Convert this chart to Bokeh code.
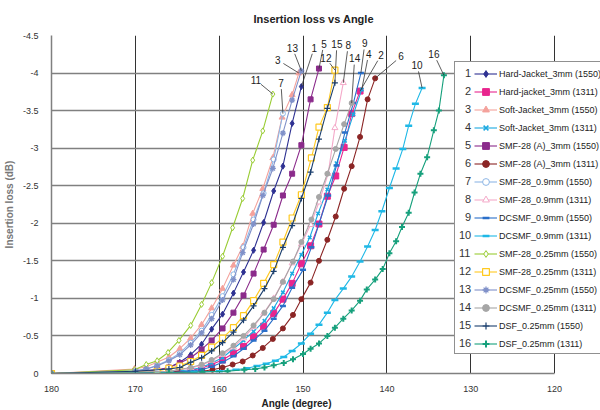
import math
from bokeh.plotting import figure
from bokeh.models import (Range1d, FixedTicker, CustomJSTickFormatter, Legend,
                          LegendItem, Label, Title)
from bokeh.embed import file_html
from bokeh.resources import INLINE

# ---------------- data (angle in degree, insertion loss in dB) ----------------
NAMES = ["Hard-Jacket_3mm (1550)", "Hard-jacket_3mm (1311)", "Soft-Jacket_3mm (1550)",
         "Soft-Jacket_3mm (1311)", "SMF-28 (A)_3mm (1550)", "SMF-28 (A)_3mm (1311)",
         "SMF-28_0.9mm (1550)", "SMF-28_0.9mm (1311)", "DCSMF_0.9mm (1550)",
         "DCSMF_0.9mm (1311)", "SMF-28_0.25mm (1550)", "SMF-28_0.25mm (1311)",
         "DCSMF_0.25mm (1550)", "DCSMF_0.25mm (1311)", "DSF_0.25mm (1550)",
         "DSF_0.25mm (1311)"]

ANGLE_1 = [180, 170.1, 168.7, 167.4, 166.0, 164.7, 163.4, 162.1, 160.9, 159.6, 158.3, 157.1, 155.9, 154.7, 153.5, 152.4, 151.3, 150.2]
LOSS_1 = [0, -0.02, -0.03, -0.04, -0.08, -0.15, -0.25, -0.39, -0.59, -0.79, -1.07, -1.35, -1.64, -2.01, -2.43, -2.76, -3.33, -3.82]

ANGLE_2 = [180, 167.4, 166.0, 164.7, 163.4, 162.1, 160.9, 159.6, 158.3, 157.1, 155.9, 154.7, 153.5, 152.4, 151.3, 150.2, 149.1, 148.1, 147.1, 146.1, 145.1, 144.2, 143.2]
LOSS_2 = [0, -0.01, -0.01, -0.02, -0.04, -0.07, -0.12, -0.18, -0.27, -0.36, -0.49, -0.63, -0.80, -0.99, -1.20, -1.46, -1.70, -1.99, -2.36, -2.63, -3.01, -3.46, -3.76]

ANGLE_3 = [180, 170.1, 168.7, 167.4, 166.0, 164.7, 163.4, 162.1, 160.9, 159.6, 158.3, 157.2, 156.0, 154.8, 153.6, 152.5, 151.3, 150.5]
LOSS_3 = [0, -0.06, -0.09, -0.15, -0.22, -0.33, -0.47, -0.65, -0.87, -1.13, -1.44, -1.69, -2.13, -2.46, -2.87, -3.41, -3.71, -4.00]

ANGLE_4 = [180, 166.0, 163.4, 162.1, 160.9, 159.6, 158.3, 157.1, 155.9, 154.6, 153.5, 152.4, 151.3, 150.2, 149.2, 148.2, 147.1, 146.0, 145.0, 144.0, 143.0]
LOSS_4 = [0, -0.02, -0.05, -0.08, -0.14, -0.21, -0.33, -0.44, -0.56, -0.70, -0.87, -1.08, -1.33, -1.58, -1.81, -2.13, -2.45, -2.80, -3.10, -3.45, -3.78]

ANGLE_5 = [180, 170.0, 167.4, 166.0, 164.7, 163.4, 162.1, 160.9, 159.6, 158.3, 157.1, 155.9, 154.7, 153.5, 152.4, 151.3, 150.2, 149.1, 148.1]
LOSS_5 = [0, -0.03, -0.05, -0.08, -0.14, -0.21, -0.32, -0.44, -0.60, -0.81, -1.04, -1.33, -1.65, -1.98, -2.37, -2.66, -3.04, -3.65, -4.06]

ANGLE_6 = [180, 170.0, 165.0, 162.0, 160.8, 159.6, 158.4, 157.2, 156.0, 154.8, 153.6, 152.4, 151.2, 150.2, 149.1, 148.1, 147.1, 146.1, 145.1, 144.2, 143.2, 142.3, 141.4]
LOSS_6 = [0, -0.01, -0.02, -0.03, -0.05, -0.08, -0.12, -0.16, -0.24, -0.34, -0.46, -0.60, -0.78, -0.99, -1.21, -1.50, -1.78, -2.09, -2.46, -2.76, -3.15, -3.65, -3.93]

ANGLE_7 = [180, 170.0, 168.7, 167.4, 166.0, 164.7, 163.4, 162.1, 160.9, 159.6, 158.3, 157.1, 155.9, 154.7, 153.5, 152.4]
LOSS_7 = [0, -0.04, -0.06, -0.11, -0.18, -0.27, -0.41, -0.57, -0.78, -1.03, -1.32, -1.68, -2.05, -2.40, -2.85, -3.46]

ANGLE_8 = [180, 166.0, 163.4, 162.1, 160.9, 159.6, 158.3, 157.1, 155.9, 154.7, 153.5, 152.4, 151.3, 150.2, 149.1, 148.1, 147.0, 146.2, 145.2]
LOSS_8 = [0, -0.03, -0.07, -0.11, -0.17, -0.25, -0.35, -0.47, -0.62, -0.80, -1.00, -1.22, -1.47, -1.72, -1.98, -2.28, -2.66, -3.27, -3.87]

ANGLE_9 = [180, 166.0, 163.4, 162.1, 160.9, 159.6, 158.3, 157.1, 155.9, 154.6, 153.5, 152.4, 151.3, 150.0, 149.0, 148.1, 147.0, 146.0, 145.0, 144.0, 143.1]
LOSS_9 = [0, -0.01, -0.03, -0.05, -0.09, -0.15, -0.23, -0.33, -0.44, -0.57, -0.73, -0.90, -1.14, -1.38, -1.68, -1.99, -2.37, -2.77, -3.21, -3.60, -4.00]

ANGLE_10 = [180, 167.0, 163.0, 160.0, 158.0, 156.7, 155.5, 154.4, 153.3, 152.3, 151.3, 150.2, 149.1, 148.1, 147.1, 146.2, 145.2, 144.2, 143.2, 142.3, 141.4, 140.6, 139.7, 138.9, 138.1, 137.4, 136.6, 135.8]
LOSS_10 = [0, -0.01, -0.02, -0.03, -0.05, -0.07, -0.10, -0.13, -0.17, -0.22, -0.30, -0.40, -0.53, -0.65, -0.81, -0.98, -1.13, -1.29, -1.49, -1.69, -1.91, -2.16, -2.47, -2.73, -2.99, -3.30, -3.59, -3.80]

ANGLE_11 = [180, 170.1, 168.7, 167.4, 166.1, 164.8, 163.4, 162.1, 160.9, 159.6, 158.4, 157.2, 156.0, 154.8, 153.6]
LOSS_11 = [0, -0.05, -0.12, -0.17, -0.28, -0.44, -0.64, -0.92, -1.21, -1.56, -1.94, -2.33, -2.84, -3.23, -3.72]

ANGLE_12 = [180, 167.4, 166.0, 164.7, 163.4, 162.1, 160.9, 159.6, 158.3, 157.1, 155.9, 154.7, 153.5, 152.4, 151.3, 150.2, 149.0, 148.1, 147.1, 146.2]
LOSS_12 = [0, -0.03, -0.07, -0.10, -0.16, -0.24, -0.35, -0.47, -0.61, -0.77, -0.97, -1.20, -1.45, -1.75, -2.07, -2.38, -2.87, -3.28, -3.54, -4.04]

ANGLE_13 = [180, 170.0, 168.7, 167.4, 166.0, 164.7, 163.4, 162.1, 160.9, 159.6, 158.3, 157.2, 155.9, 154.8, 153.6, 152.4, 151.3, 150.2]
LOSS_13 = [0, -0.03, -0.06, -0.10, -0.17, -0.25, -0.38, -0.54, -0.73, -0.98, -1.25, -1.61, -1.99, -2.37, -2.73, -3.20, -3.64, -4.03]

ANGLE_14 = [180, 166.0, 163.4, 162.1, 160.9, 159.6, 158.3, 157.1, 155.9, 154.6, 153.5, 152.4, 151.2, 150.2, 149.0, 148.1, 147.1, 146.1, 145.1, 144.2]
LOSS_14 = [0, -0.03, -0.08, -0.12, -0.18, -0.27, -0.37, -0.50, -0.64, -0.81, -0.99, -1.22, -1.49, -1.75, -2.05, -2.35, -2.66, -2.99, -3.32, -3.60]

ANGLE_15 = [180, 170.0, 166.0, 164.7, 163.4, 162.1, 160.9, 159.6, 158.3, 157.1, 155.9, 154.6, 153.5, 152.4, 151.3, 150.2, 149.1, 148.1, 147.1, 146.2]
LOSS_15 = [0, -0.03, -0.06, -0.08, -0.15, -0.21, -0.30, -0.41, -0.55, -0.71, -0.90, -1.13, -1.36, -1.68, -1.97, -2.33, -2.68, -3.12, -3.53, -3.87]

ANGLE_16 = [180, 166.0, 162.0, 159.0, 157.0, 155.7, 154.6, 153.5, 152.3, 151.2, 150.0, 149.1, 148.1, 147.1, 146.2, 145.2, 144.2, 143.2, 142.4, 141.4, 140.5, 139.7, 138.9, 138.2, 137.4, 136.7, 136.0, 135.2, 134.4, 133.8, 133.2]
LOSS_16 = [0, -0.01, -0.02, -0.03, -0.05, -0.06, -0.08, -0.11, -0.14, -0.19, -0.26, -0.33, -0.40, -0.50, -0.61, -0.73, -0.84, -0.97, -1.12, -1.25, -1.39, -1.60, -1.76, -1.95, -2.14, -2.41, -2.66, -2.88, -3.24, -3.50, -3.97]

ANGLES = [ANGLE_1, ANGLE_2, ANGLE_3, ANGLE_4, ANGLE_5, ANGLE_6, ANGLE_7, ANGLE_8,
          ANGLE_9, ANGLE_10, ANGLE_11, ANGLE_12, ANGLE_13, ANGLE_14, ANGLE_15, ANGLE_16]
LOSSES = [LOSS_1, LOSS_2, LOSS_3, LOSS_4, LOSS_5, LOSS_6, LOSS_7, LOSS_8,
          LOSS_9, LOSS_10, LOSS_11, LOSS_12, LOSS_13, LOSS_14, LOSS_15, LOSS_16]

X_TICKS = [180, 170, 160, 150, 140, 130, 120]
Y_TICKS = [0, -0.5, -1, -1.5, -2, -2.5, -3, -3.5, -4, -4.5]

# ---------------- styles ----------------
COLORS = ["#2E3192", "#E8258E", "#F4A29C", "#1BA9E1", "#8B2B8B", "#8B2525",
          "#8EB7E6", "#F4A9C9", "#2A6FC9", "#1FB8E6", "#99CC33", "#FFC91F",
          "#8091C9", "#A6A6A6", "#1B3F6E", "#16A07C"]
MARKERS = ["diamond", "square", "triangle", "x", "square", "circle",
           "circle", "triangle", "dash", "dash", "diamond", "square",
           "asterisk", "circle", "cross", "cross"]
FILLED = [True, True, True, True, True, True, False, False, True, True,
          False, False, True, True, True, True]
MSIZE = [6, 6, 6, 5, 5, 5, 5, 6, 6, 7, 6, 6, 6, 5, 6, 6]
MLW = [1, 1, 1, 1.5, 1, 1, 1, 1, 2.5, 2.5, 1, 1.2, 1.3, 1, 1.2, 2]
# series-number label offsets (screen px, from each series' last point)
LABEL_OFFSET = [(13, -39), (21, -36), (-21, -13), (7, -36), (5, -25), (26, -22),
                (-2, -31), (5, -38), (4, -30), (-5, -23), (-17, -14), (-9, -12),
                (-9, -23), (3, -45), (2, -39), (-10, -21)]

FONT = "Liberation Sans"
W, H = 600, 410
FL, FT, FB = 50, 35, 37
PLOT_RIGHT = 554                      # where the 120 degree line sits
FH = H - FT - FB
SX = (PLOT_RIGHT - FL) / 60.0         # px per degree
SY = FH / 4.5                         # px per dB
X_END = 180 - (W - FL) / SX           # frame runs to the canvas edge (legend area)

p = figure(width=W, height=H, output_backend="svg", toolbar_location=None,
           x_range=Range1d(180, X_END), y_range=Range1d(0, -4.5),
           min_border_left=FL, min_border_right=0, min_border_top=FT,
           min_border_bottom=FB, background_fill_color="white",
           border_fill_color="white", outline_line_color=None)

p.title.text = "Insertion loss vs Angle"
p.title.align = "left"
p.title.offset = 202
p.title.vertical_align = "bottom"
p.title.standoff = 21
p.title.text_font = FONT
p.title.text_font_size = "11px"
p.title.text_font_style = "bold"
p.title.text_color = "#222222"

p.xaxis.ticker = FixedTicker(ticks=X_TICKS)
p.yaxis.ticker = FixedTicker(ticks=Y_TICKS)
p.yaxis.formatter = CustomJSTickFormatter(code="return tick.toString();")
p.yaxis.axis_label = "Insertion loss (dB)"
for ax in (p.xaxis, p.yaxis):
    ax.axis_label_text_font = FONT
    ax.axis_label_text_font_size = "10px"
    ax.axis_label_text_font_style = "bold"
    ax.major_label_text_font = FONT
    ax.major_label_text_font_size = "9px"
    ax.major_label_text_color = "#333333"
    ax.major_tick_line_color = None
    ax.minor_tick_line_color = None
    ax.axis_line_color = "#808080"
    ax.axis_line_width = 1.5
p.xaxis.bounds = (120, 180)
p.yaxis.axis_label_text_color = "#777777"
p.xaxis.major_label_standoff = 6
p.yaxis.major_label_standoff = 7
p.yaxis.axis_label_standoff = 5

p.add_layout(Title(text="Angle (degree)", align="left", offset=210,
                   vertical_align="bottom", standoff=2, text_font=FONT,
                   text_font_size="10px", text_font_style="bold",
                   text_color="#222222"), "below")

p.xgrid.ticker = FixedTicker(ticks=X_TICKS)
p.ygrid.ticker = FixedTicker(ticks=Y_TICKS)
p.ygrid.bounds = (120, 180)
p.xgrid.grid_line_color = "#333333"
p.xgrid.grid_line_width = 1
p.ygrid.grid_line_color = "#808080"
p.ygrid.grid_line_width = 1.5

lines, dots = [], []
for i in range(16):
    c = COLORS[i]
    ln = p.line(ANGLES[i], LOSSES[i], line_color=c, line_width=1.1)
    r = p.scatter(ANGLES[i], LOSSES[i], marker=MARKERS[i], size=MSIZE[i],
                  line_color=c, fill_color=c if FILLED[i] else "white",
                  line_width=MLW[i])
    lines.append(ln)
    dots.append(r)

# series number labels with leader lines
for i in range(16):
    ax_, ly_ = ANGLES[i][-1], LOSSES[i][-1]
    dx, dy = LABEL_OFFSET[i]
    dist = math.hypot(dx, dy)
    k = max(0.0, 1 - 6.5 / dist)
    p.segment(x0=[ax_ - dx * k / SX], y0=[ly_ + dy * k / SY], x1=[ax_], y1=[ly_],
              line_color="#333333", line_width=0.8)
    p.add_layout(Label(x=ax_ - dx / SX, y=ly_ + dy / SY, text=str(i + 1),
                       text_align="center", text_baseline="middle",
                       text_font=FONT, text_font_size="10px", text_color="#222222"))

# legend: box with numbers, then glyphs with names
FIG = "\u2007"
dummy = p.line(x=[], y=[], line_alpha=0)
LEG_TOP = 63 - FT                     # px below frame top
ITEM_H, SPACING, PAD = 17, 1, 2
leg_h = 2 * PAD + 16 * ITEM_H + 15 * SPACING
vy = FH - LEG_TOP - leg_h

legA = Legend(items=[LegendItem(label=(FIG if i < 9 else "") + str(i + 1), renderers=[dummy])
                     for i in range(16)],
              location=(453 - FL, vy), padding=PAD, margin=0, spacing=SPACING,
              glyph_width=1, glyph_height=ITEM_H, label_height=ITEM_H,
              label_standoff=1, label_width=170, border_line_color="#222222",
              border_line_width=1, background_fill_color="white",
              background_fill_alpha=1.0, label_text_font=FONT,
              label_text_font_size="11px", label_text_color="#333333")
legB = Legend(items=[LegendItem(label=NAMES[i], renderers=[lines[i], dots[i]]) for i in range(16)],
              location=(471 - FL, vy), padding=PAD, margin=0, spacing=SPACING,
              glyph_width=23, glyph_height=ITEM_H, label_height=ITEM_H,
              label_standoff=2, border_line_alpha=0, background_fill_alpha=0,
              label_text_font=FONT, label_text_font_size="9px",
              label_text_color="#222222")
p.add_layout(legA, "center")
p.add_layout(legB, "center")

open("out.html", "w").write(file_html(p, INLINE))
